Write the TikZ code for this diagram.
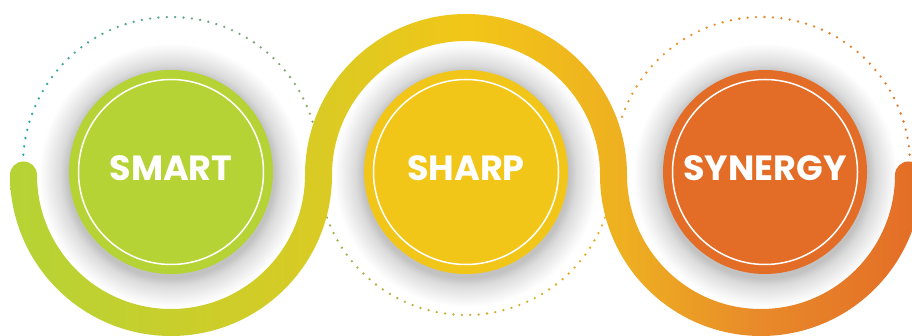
\documentclass[tikz,border=0pt]{standalone}
\usepackage{fontspec}
\setmainfont{Poppins}
\usetikzlibrary{backgrounds}

\definecolor{smartgreen}{HTML}{B5D335}
\definecolor{sharpyellow}{HTML}{F2C618}
\definecolor{synorange}{HTML}{E36C26}
\definecolor{bandolive}{HTML}{D7CB25}
\definecolor{bandamber}{HTML}{EEB020}
\definecolor{bandtan}{HTML}{E88A2A}
\definecolor{dotteal}{HTML}{1FA6B5}
\definecolor{dotsage}{HTML}{93AB62}
\definecolor{dotolive}{HTML}{A2B04C}
\definecolor{dotamber}{HTML}{EEAE1E}
\definecolor{dotpeach}{HTML}{EB9A2C}
\definecolor{dotrust}{HTML}{E37428}

\pgfdeclareradialshading{halo}{\pgfpointorigin}{color(0bp)=(black!24);
  color(19.5bp)=(black!24); color(21bp)=(black!14); color(23.5bp)=(black!5);
  color(25bp)=(white); color(50bp)=(white)}
\pgfdeclarehorizontalshading{band}{100bp}{color(0bp)=(smartgreen);
  color(25bp)=(smartgreen); color(41bp)=(bandolive); color(50bp)=(sharpyellow);
  color(58.5bp)=(bandamber); color(66bp)=(bandtan); color(75bp)=(synorange);
  color(100bp)=(synorange)}

\tikzset{
  bubble/.style={circle, minimum size=204pt, inner sep=0pt},
  caption/.style={inner sep=0pt, text=white,
    font=\bfseries\fontsize{35}{35}\selectfont},
  ring/.style={draw=white, line width=1.5pt},
}

\begin{document}
\begin{tikzpicture}[x=1pt, y=1pt]
    \clip (0,0) rectangle (912,336);
    \fill[white] (0,0) rectangle (912,336);
    \foreach \cx in {171,466,765}  % soft shadows round the circles
        \shade[shading=halo] (\cx,161) circle (132);
    % dotted arcs
    \foreach \i in {0,...,49} {
        \pgfmathsetmacro\a{176-\i*159/49}
        \pgfmathsetmacro\p{100-\i*100/49}
        \fill[dotteal!\p!dotsage] ([shift={(\a:148)}]171,171) circle (1.3);
    }
    \foreach \i in {0,...,43} {
        \pgfmathsetmacro\a{200+\i*140/43}
        \pgfmathsetmacro\p{100-\i*100/43}
        \fill[dotolive!\p!dotamber] ([shift={(\a:148)}]466,169) circle (1.3);
    }
    \foreach \i in {0,...,48} {
        \pgfmathsetmacro\a{161-\i*157/48}
        \pgfmathsetmacro\p{100-\i*100/48}
        \fill[dotpeach!\p!dotrust] ([shift={(\a:148)}]762,171) circle (1.3);
    }
    % the wavy band
    \shade[shading=band]
        (10,161) arc[start angle=180, end angle=360, radius=161]
        arc[start angle=180, end angle=0, radius=134]
        arc[start angle=180, end angle=360, radius=161]
        arc[start angle=0, end angle=180, radius=13.5]
        arc[start angle=360, end angle=180, radius=134]
        arc[start angle=0, end angle=180, radius=161]
        arc[start angle=360, end angle=180, radius=134]
        arc[start angle=0, end angle=180, radius=13.5] -- cycle;
    \node[bubble, fill=smartgreen] (smart) at (171,164) {};
    \node[bubble, fill=sharpyellow] (sharp) at (466,164) {};
    \node[bubble, fill=synorange] (synergy) at (765,164) {};
    \foreach \n in {smart,sharp,synergy}
        \draw[ring] (\n.center) circle (92.5);
    \node[caption] (smarttext) at ([yshift=3.5]smart.center) {SMART};
    \node[caption] (sharptext) at ([yshift=3.5]sharp.center) {SHARP};
    \node[caption] (synergytext) at ([yshift=3.5]synergy.center) {SYNERGY};
\end{tikzpicture}
\end{document}
